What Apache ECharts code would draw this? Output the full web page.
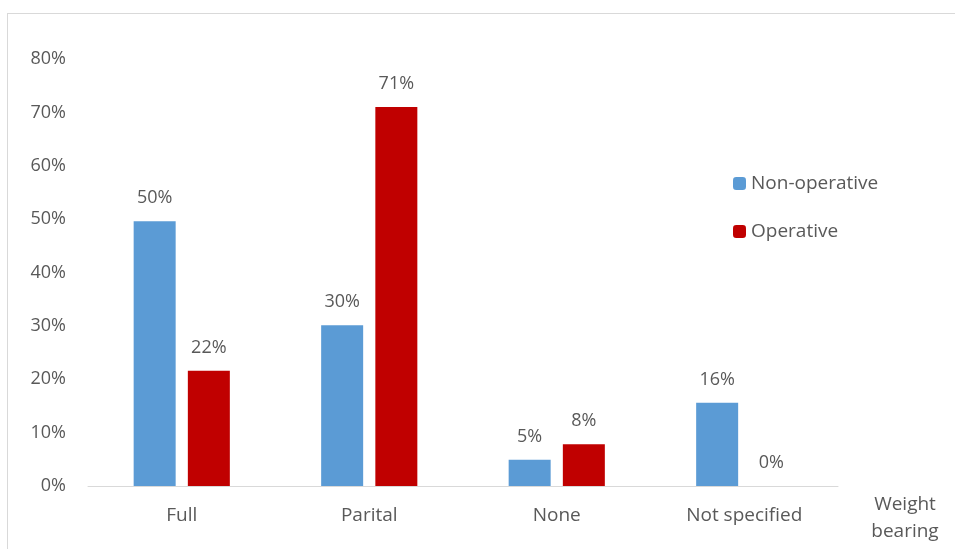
<!DOCTYPE html>
<html><head><meta charset="utf-8">
<script src="https://cdn.jsdelivr.net/npm/echarts@6/dist/echarts.min.js"></script>
<style>html,body{margin:0;padding:0;background:#fff}#c{width:955px;height:549px;position:relative}
#frame{position:absolute;left:7px;top:13px;width:960px;height:560px;border:1px solid #d9d9d9;box-sizing:border-box}</style>
</head><body><div id="c"></div><div id="frame"></div>
<script>
const categories = ['Full', 'Parital', 'None', 'Not specified'];
const nonOperative = [49.6, 30.1, 4.9, 15.6];
const operative = [21.6, 71.0, 7.8, 0];
const yTicks = [0, 10, 20, 30, 40, 50, 60, 70, 80];
const font = 'Open Sans, Liberation Sans, sans-serif';
const txt = '#595959';
const chart = echarts.init(document.getElementById('c'));
const lbl = {show: true, position: 'top', distance: 14, color: txt, fontSize: 18, fontFamily: font,
  formatter: p => Math.round(p.value) + '%'};
chart.setOption({
  animation: false,
  textStyle: {fontFamily: font},
  grid: {left: 88, right: 117, top: 59, bottom: 63},
  legend: {orient: 'vertical', left: 728, top: 169, itemWidth: 13, itemHeight: 13, itemGap: 29,
    textStyle: {color: txt, fontSize: 19, fontFamily: font},
    data: ['Non-operative', 'Operative']},
  xAxis: {type: 'category', data: categories,
    name: 'Weight\nbearing', nameLocation: 'end', nameGap: 67,
    nameTextStyle: {color: txt, fontSize: 19, fontFamily: font, align: 'center', verticalAlign: 'top', padding: [5, 0, 0, 0], lineHeight: 27},
    axisLine: {lineStyle: {color: '#d9d9d9', width: 1}}, axisTick: {show: false},
    axisLabel: {color: txt, fontSize: 19, fontFamily: font, margin: 20}},
  yAxis: {type: 'value', min: yTicks[0], max: yTicks[yTicks.length - 1], interval: 10,
    axisLine: {show: false}, axisTick: {show: false}, splitLine: {show: false},
    axisLabel: {color: txt, fontSize: 18, fontFamily: font, margin: 22, formatter: v => v + '%'}},
  series: [
    {name: 'Non-operative', type: 'bar', data: nonOperative, barWidth: 42, barGap: '29%',
      itemStyle: {color: '#5b9bd5'}, label: lbl},
    {name: 'Operative', type: 'bar', data: operative, barWidth: 42,
      itemStyle: {color: '#c00000'}, label: lbl}
  ]
});
</script></body></html>
